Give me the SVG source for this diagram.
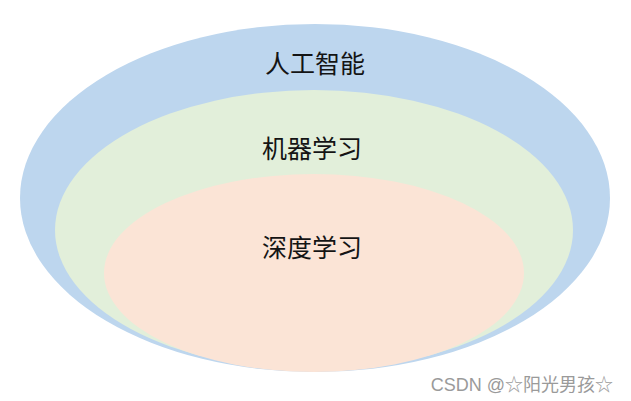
<svg xmlns="http://www.w3.org/2000/svg" width="631" height="401" viewBox="0 0 631 401">
<style>
.lbl{font-family:"Noto Sans CJK SC","Noto Sans",sans-serif;font-size:25px;fill:#141414;text-anchor:middle;dominant-baseline:central}
.wm{font-family:"Liberation Sans","Noto Sans CJK SC",sans-serif;font-size:18px;fill:#9a9a9a;text-anchor:end}
</style>
<rect width="631" height="401" fill="#ffffff"/>
<g id="ai">
<ellipse cx="315" cy="198" rx="295" ry="174" fill="#bdd6ee"/>
<text class="lbl" x="315" y="62">人工智能</text>
</g>
<g id="ml">
<ellipse cx="314" cy="230" rx="259" ry="140" fill="#e2efda"/>
<text class="lbl" x="312" y="147">机器学习</text>
</g>
<g id="dl">
<ellipse cx="314" cy="273" rx="210" ry="99" fill="#fbe4d6"/>
<text class="lbl" x="312" y="246">深度学习</text>
</g>
<g id="connectors"/>
<text class="wm" x="613" y="391">CSDN @☆阳光男孩☆</text>
</svg>
